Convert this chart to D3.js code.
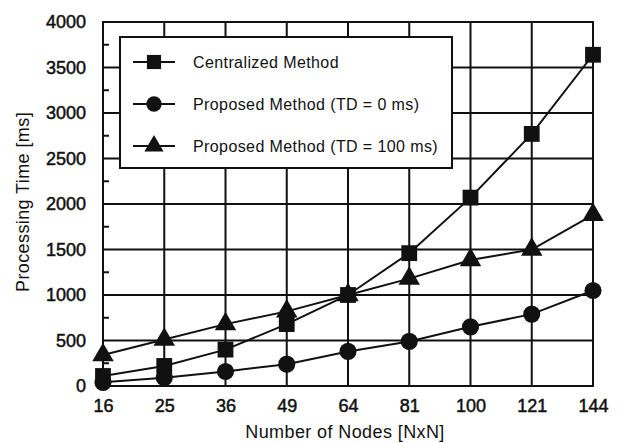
<!DOCTYPE html>
<html>
<head>
<meta charset="utf-8">
<script src="https://cdn.jsdelivr.net/npm/d3@7"></script>
<style>
  body { margin: 0; background: #fff; }
  text { font-family: "Liberation Sans", Arial, sans-serif; fill: #111; }
</style>
</head>
<body>
<svg id="chart" width="622" height="443"></svg>
<script>
// data
var nodes = ["16", "25", "36", "49", "64", "81", "100", "121", "144"];
var centralized = [110, 220, 400, 680, 1000, 1460, 2070, 2770, 3640];
var proposed0 = [40, 90, 160, 240, 380, 490, 650, 790, 1050];
var proposed100 = [340, 510, 680, 820, 1000, 1180, 1385, 1500, 1880];
var yTicks = [0, 500, 1000, 1500, 2000, 2500, 3000, 3500, 4000];
var seriesNames = ["Centralized Method", "Proposed Method (TD = 0 ms)", "Proposed Method (TD = 100 ms)"];

var svg = d3.select("#chart");
var margin = {top: 22, right: 29, bottom: 57, left: 103};
var width = 622 - margin.left - margin.right,
  height = 443 - margin.top - margin.bottom;

var g = svg.append("g").attr("transform", "translate(" + margin.left + "," + margin.top + ")");

var x = d3.scalePoint().domain(nodes).range([0, width]).padding(0);
var y = d3.scaleLinear().domain([0, 4000]).range([height, 0]);

var ink = "#111";

// grid
g.append("g")
  .selectAll("line")
  .data(yTicks)
  .join("line")
  .attr("x1", 0).attr("x2", width)
  .attr("y1", d => y(d)).attr("y2", d => y(d))
  .attr("stroke", ink).attr("stroke-width", 2);

g.append("g")
  .selectAll("line")
  .data(nodes)
  .join("line")
  .attr("x1", d => x(d)).attr("x2", d => x(d))
  .attr("y1", 0).attr("y2", height)
  .attr("stroke", ink).attr("stroke-width", 2);

// minor ticks on left axis
g.append("g")
  .selectAll("line")
  .data(d3.range(250, 4000, 500))
  .join("line")
  .attr("x1", 0).attr("x2", 6)
  .attr("y1", d => y(d)).attr("y2", d => y(d))
  .attr("stroke", ink).attr("stroke-width", 2);

// frame
g.append("rect")
  .attr("width", width).attr("height", height)
  .attr("fill", "none").attr("stroke", ink).attr("stroke-width", 2);

// axes labels
var yAxis = g.append("g")
  .call(d3.axisLeft(y).tickValues(yTicks).tickSize(0).tickPadding(17).tickFormat(d3.format("d")));
yAxis.select(".domain").remove();
yAxis.selectAll("text").attr("font-size", 18).attr("fill", ink)
  .attr("stroke", ink).attr("stroke-width", 0.5)
  .attr("font-family", "Liberation Sans, Arial, sans-serif");

var xAxis = g.append("g")
  .attr("transform", "translate(0," + height + ")")
  .call(d3.axisBottom(x).tickSize(0).tickPadding(13));
xAxis.select(".domain").remove();
xAxis.selectAll("text").attr("font-size", 18).attr("fill", ink)
  .attr("stroke", ink).attr("stroke-width", 0.5)
  .attr("font-family", "Liberation Sans, Arial, sans-serif");

svg.append("text")
  .attr("x", margin.left + width / 2 - 3).attr("y", 438)
  .attr("text-anchor", "middle").attr("font-size", 18)
  .attr("letter-spacing", 0.4)
  .text("Number of Nodes [NxN]");

svg.append("text")
  .attr("transform", "translate(29," + (margin.top + height / 2 - 2) + ") rotate(-90)")
  .attr("text-anchor", "middle").attr("font-size", 18)
  .attr("letter-spacing", 0.4)
  .text("Processing Time [ms]");

// series
var series = [
  {name: seriesNames[0], values: centralized, symbol: d3.symbolSquare, size: 250},
  {name: seriesNames[1], values: proposed0, symbol: d3.symbolCircle, size: 230},
  {name: seriesNames[2], values: proposed100, symbol: d3.symbolTriangle, size: 200}
];

var line = d3.line().x((d, i) => x(nodes[i])).y(d => y(d));

series.forEach(function (s) {
  g.append("path")
    .datum(s.values)
    .attr("d", line)
    .attr("fill", "none").attr("stroke", ink).attr("stroke-width", 2);
  g.append("g")
    .selectAll("path")
    .data(s.values)
    .join("path")
    .attr("transform", (d, i) => "translate(" + x(nodes[i]) + "," + y(d) + ")")
    .attr("d", d3.symbol().type(s.symbol).size(s.size))
    .attr("fill", ink);
});

// legend
var legend = svg.append("g").attr("transform", "translate(120,37)");
legend.append("rect")
  .attr("width", 332).attr("height", 131)
  .attr("fill", "#fff").attr("stroke", ink).attr("stroke-width", 2);

series.forEach(function (s, i) {
  var ly = 25 + i * 42;
  legend.append("line")
    .attr("x1", 13).attr("x2", 55).attr("y1", ly).attr("y2", ly)
    .attr("stroke", ink).attr("stroke-width", 2);
  legend.append("path")
    .attr("transform", "translate(34," + ly + ")")
    .attr("d", d3.symbol().type(s.symbol).size(s.size * 0.8))
    .attr("fill", ink);
  legend.append("text")
    .attr("x", 73).attr("y", ly + 6)
    .attr("font-size", 16)
    .attr("letter-spacing", 0.4)
    .text(s.name);
});
</script>
</body>
</html>
